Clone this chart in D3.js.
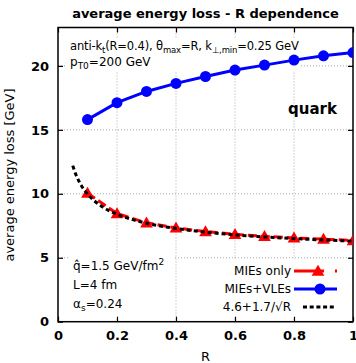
<!DOCTYPE html>
<html><head><meta charset="utf-8">
<script src="https://cdn.jsdelivr.net/npm/d3@7"></script>
<style>body{margin:0;background:#fff}svg{display:block}text{font-family:"DejaVu Sans",sans-serif}</style>
</head><body><svg id="c" width="356" height="363"></svg>
<script>
const R = [0.1,0.2,0.3,0.4,0.5,0.6,0.7,0.8,0.9,1.0];
const miesOnly = [10.05,8.45,7.73,7.33,7.05,6.83,6.67,6.55,6.45,6.35];
const miesVles = [15.8,17.12,18.0,18.63,19.17,19.67,20.06,20.45,20.79,21.04];
const fitR = [0.05,0.06,0.07,0.08,0.1,0.12,0.15,0.2,0.25,0.3,0.4,0.5,0.6,0.7,0.8,0.9,1.0];
const fitVals = [12.20,11.54,11.03,10.61,9.98,9.51,8.99,8.40,8.00,7.70,7.29,7.00,6.79,6.63,6.50,6.39,6.30];
const xTicks = [0,0.2,0.4,0.6,0.8,1];
const xTickLabels = ["0","0.2","0.4","0.6","0.8","1"];
const yTicks = [0,5,10,15,20];
const legendLabels = ["MIEs only","MIEs+VLEs","4.6+1.7/\u221AR"];

const svg = d3.select("#c");
const L=58,Rt=353,T=27.5,B=321.7;
const x = d3.scaleLinear().domain([0,1]).range([L,Rt]);
const y = d3.scaleLinear().domain([0,23]).range([B,T]);

// grid
const g = svg.append("g");
g.selectAll("line.gx").data(xTicks.slice(1,-1)).join("line")
 .attr("x1",d=>x(d)).attr("x2",d=>x(d)).attr("y1",T).attr("y2",B)
 .attr("stroke","#aaa").attr("stroke-width",1).attr("stroke-dasharray","1,2");
g.selectAll("line.gy").data(yTicks.slice(1)).join("line")
 .attr("x1",L).attr("x2",Rt).attr("y1",d=>y(d)).attr("y2",d=>y(d))
 .attr("stroke","#aaa").attr("stroke-width",1).attr("stroke-dasharray","1,2");

// label backgrounds (opaque)
svg.append("rect").attr("x",66).attr("y",38).attr("width",234).attr("height",34).attr("fill","#fff");
svg.append("rect").attr("x",68).attr("y",255).attr("width",105).attr("height",62).attr("fill","#fff");
svg.append("rect").attr("x",216).attr("y",259).attr("width",136).attr("height",58).attr("fill","#fff");

// axes
const xAxis = d3.axisBottom(x).tickValues(xTicks).tickFormat((d,i)=>xTickLabels[i]).tickSizeInner(-5).tickSizeOuter(0).tickPadding(9);
const yAxis = d3.axisLeft(y).tickValues(yTicks).tickSizeInner(-5).tickSizeOuter(0).tickPadding(9);
const xa = svg.append("g").attr("transform",`translate(0,${B})`).call(xAxis);
const ya = svg.append("g").attr("transform",`translate(${L},0)`).call(yAxis);
const xt = svg.append("g").attr("transform",`translate(0,${T})`).call(d3.axisTop(x).tickValues(xTicks).tickSizeInner(-5).tickSizeOuter(0).tickFormat(""));
const yr = svg.append("g").attr("transform",`translate(${Rt},0)`).call(d3.axisRight(y).tickValues(yTicks).tickSizeInner(-5).tickSizeOuter(0).tickFormat(""));
[xa,ya,xt,yr].forEach(a=>{a.select(".domain").remove();a.selectAll("line").attr("stroke","#000").attr("stroke-width",1.2);});
[xa,ya].forEach(a=>a.selectAll("text").attr("font-size",13).attr("font-weight","bold").attr("fill","#000").style("font-family","DejaVu Sans"));
svg.append("rect").attr("x",L).attr("y",T).attr("width",Rt-L).attr("height",B-T).attr("fill","none").attr("stroke","#000").attr("stroke-width",1.5);

// series
const lineG = d3.line().x(d=>x(d[0])).y(d=>y(d[1]));
const blue = R.map((r,i)=>[r,miesVles[i]]);
const red = R.map((r,i)=>[r,miesOnly[i]]);
const fit = fitR.map((r,i)=>[r,fitVals[i]]);
svg.append("clipPath").attr("id","cp").append("rect").attr("x",L).attr("y",T).attr("width",Rt-L).attr("height",B-T);
const pg = svg.append("g").attr("clip-path","url(#cp)");
pg.append("path").datum(blue).attr("d",lineG).attr("fill","none").attr("stroke","#0000ff").attr("stroke-width",3);
pg.selectAll("circle.b").data(blue).join("circle").attr("cx",d=>x(d[0])).attr("cy",d=>y(d[1])).attr("r",5.5).attr("fill","#0000ff");
pg.append("path").datum(red).attr("d",lineG).attr("fill","none").attr("stroke","#ff0000").attr("stroke-width",3).attr("stroke-dasharray","9,4");
const tri = d3.symbol().type(d3.symbolTriangle).size(70);
pg.selectAll("path.t").data(red).join("path").attr("d",tri).attr("transform",d=>`translate(${x(d[0])},${y(d[1])+1})`).attr("fill","#ff0000");
const fitLine = d3.line().x(d=>x(d[0])).y(d=>y(d[1])).curve(d3.curveMonotoneX);
pg.append("path").datum(fit).attr("d",fitLine).attr("fill","none").attr("stroke","#000").attr("stroke-width",3).attr("stroke-dasharray","4,3");

// texts
svg.append("text").attr("x",205.5).attr("y",18).attr("text-anchor","middle").attr("font-size",13).attr("font-weight","bold").text("average energy loss - R dependence");
svg.append("text").attr("x",205.5).attr("y",361).attr("text-anchor","middle").attr("font-size",13).text("R");
svg.append("text").attr("transform","translate(14,175) rotate(-90)").attr("text-anchor","middle").attr("font-size",13).text("average energy loss [GeV]");

const t1 = svg.append("text").attr("x",70).attr("y",50).attr("font-size",11.5).attr("letter-spacing",-0.15);
t1.append("tspan").text("anti-k");
t1.append("tspan").attr("font-size",8.5).attr("dy",3).text("t");
t1.append("tspan").attr("dy",-3).text("(R=0.4), \u03B8");
t1.append("tspan").attr("font-size",8.5).attr("dy",3).text("max");
t1.append("tspan").attr("dy",-3).text("=R, k");
t1.append("tspan").attr("font-size",8.5).attr("dy",3).text("\u22A5,min");
t1.append("tspan").attr("dy",-3).text("=0.25 GeV");
const t2 = svg.append("text").attr("x",70).attr("y",66).attr("font-size",12);
t2.append("tspan").text("p");
t2.append("tspan").attr("font-size",9).attr("dy",3).text("T0");
t2.append("tspan").attr("dy",-3).text("=200 GeV");
svg.append("text").attr("x",337).attr("y",114).attr("text-anchor","end").attr("font-size",15).attr("font-weight","bold").text("quark");

const t3 = svg.append("text").attr("x",73).attr("y",270).attr("font-size",12);
t3.append("tspan").text("q\u0302=1.5 GeV/fm");
t3.append("tspan").attr("font-size",9).attr("dy",-5).text("2");
svg.append("text").attr("x",73).attr("y",289).attr("font-size",12).text("L=4 fm");
const t5 = svg.append("text").attr("x",73).attr("y",308).attr("font-size",12);
t5.append("tspan").text("\u03B1");
t5.append("tspan").attr("font-size",9).attr("dy",3).text("s");
t5.append("tspan").attr("dy",-3).text("=0.24");

// legend
const ly = [271,289,307];
legendLabels.forEach((lab,i)=>{
  svg.append("text").attr("x",291).attr("y",ly[i]+4).attr("text-anchor","end").attr("font-size",12).text(lab);
});
svg.append("line").attr("x1",294).attr("x2",337).attr("y1",ly[0]).attr("y2",ly[0]).attr("stroke","#ff0000").attr("stroke-width",3).attr("stroke-dasharray","30,11,2,10");
svg.append("path").attr("d",tri).attr("transform",`translate(318,${ly[0]+1})`).attr("fill","#ff0000");
svg.append("line").attr("x1",294).attr("x2",337).attr("y1",ly[1]).attr("y2",ly[1]).attr("stroke","#0000ff").attr("stroke-width",3);
svg.append("circle").attr("cx",320).attr("cy",ly[1]).attr("r",5.5).attr("fill","#0000ff");
svg.append("line").attr("x1",303).attr("x2",334).attr("y1",ly[2]).attr("y2",ly[2]).attr("stroke","#000").attr("stroke-width",3).attr("stroke-dasharray","4,2.7");
</script></body></html>
